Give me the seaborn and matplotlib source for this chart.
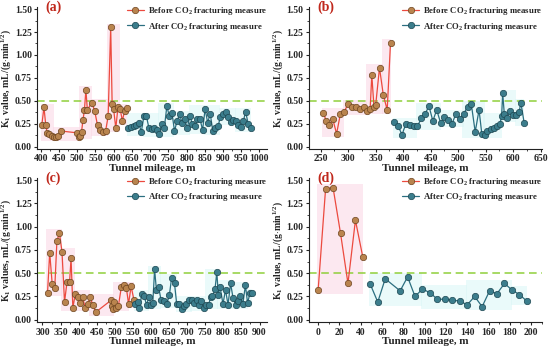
import numpy as np
import pandas as pd
import matplotlib
matplotlib.use("Agg")
import matplotlib.pyplot as plt
from matplotlib.ticker import MultipleLocator
import seaborn as sns

# panel (a)
a_before_x = [403, 409, 414, 418, 424, 430, 436, 442, 448, 455, 500, 504, 508, 512, 516, 520, 524, 528,
              540, 548, 556, 564, 572, 578, 585, 592, 596, 600, 606, 612, 618, 624, 630, 636]
a_before_y = [0.23, 0.43, 0.23, 0.15, 0.14, 0.12, 0.10, 0.10, 0.11, 0.17, 0.15, 0.10, 0.12, 0.16, 0.29, 0.40,
              0.62, 0.40, 0.48, 0.39, 0.23, 0.18, 0.16, 0.17, 0.33, 1.30, 0.46, 0.41, 0.20, 0.43, 0.41, 0.28,
              0.39, 0.42]
a_after_x = [640, 648, 655, 662, 669, 676, 683, 690, 697, 704, 711, 718, 725, 732, 739, 746, 753, 760, 767,
             774, 781, 788, 795, 802, 809, 816, 823, 830, 837, 844, 851, 858, 865, 872, 879, 886, 893, 900,
             907, 914, 921, 928, 935, 942, 949, 956, 962, 969, 976]
a_after_y = [0.20, 0.21, 0.22, 0.23, 0.26, 0.16, 0.33, 0.33, 0.20, 0.19, 0.20, 0.18, 0.14, 0.25, 0.20, 0.44,
             0.33, 0.37, 0.17, 0.28, 0.35, 0.26, 0.30, 0.20, 0.33, 0.25, 0.22, 0.30, 0.30, 0.18, 0.41, 0.26,
             0.36, 0.17, 0.20, 0.22, 0.32, 0.36, 0.38, 0.32, 0.27, 0.29, 0.28, 0.24, 0.21, 0.28, 0.38, 0.25,
             0.20]

# panel (b)
b_before_x = [255, 260, 266, 272, 279, 286, 293, 300, 307, 314, 321, 328, 335, 340, 343, 347, 350, 357,
              364, 371, 377]
b_before_y = [0.37, 0.28, 0.23, 0.30, 0.14, 0.36, 0.38, 0.47, 0.43, 0.43, 0.41, 0.43, 0.39, 0.41, 0.78,
              0.43, 0.45, 0.86, 0.56, 0.40, 1.13]
b_after_x = [384, 391, 398, 405, 412, 419, 426, 433, 440, 447, 454, 461, 468, 475, 482, 489, 496, 503, 510,
             517, 524, 531, 538, 543, 548, 553, 559, 565, 571, 576, 579, 581, 584, 589, 594, 600, 606, 611,
             614, 620]
b_after_y = [0.27, 0.22, 0.13, 0.25, 0.24, 0.22, 0.22, 0.31, 0.36, 0.44, 0.28, 0.40, 0.26, 0.32, 0.29, 0.25,
             0.36, 0.30, 0.36, 0.43, 0.46, 0.16, 0.40, 0.14, 0.13, 0.17, 0.19, 0.20, 0.22, 0.25, 0.33, 0.58,
             0.35, 0.31, 0.39, 0.34, 0.34, 0.38, 0.48, 0.26]

# panel (c)
c_before_x = [314, 320, 327, 334, 340, 347, 354, 361, 368, 375, 379, 384, 391, 398, 405, 411, 418, 425,
              432, 439, 447, 490, 493, 496, 499, 503, 510, 518, 525, 532, 538, 545, 553]
c_before_y = [0.29, 0.72, 0.38, 0.34, 0.85, 0.93, 0.73, 0.19, 0.41, 0.41, 0.66, 0.13, 0.28, 0.24, 0.18,
              0.24, 0.13, 0.17, 0.24, 0.16, 0.08, 0.21, 0.15, 0.12, 0.19, 0.13, 0.15, 0.35, 0.37, 0.34, 0.17,
              0.36, 0.21]
c_after_x = [557, 563, 568, 575, 581, 588, 594, 600, 605, 610, 615, 621, 628, 636, 644, 651, 657, 665, 671,
             678, 685, 692, 698, 705, 712, 719, 726, 732, 739, 746, 753, 759, 765, 770, 777, 782, 786, 791,
             799, 806, 813, 820, 827, 834, 840, 847, 854, 861, 867, 874, 880]
c_after_y = [0.17, 0.19, 0.13, 0.28, 0.25, 0.16, 0.24, 0.16, 0.18, 0.54, 0.32, 0.35, 0.21, 0.20, 0.17,
             0.27, 0.45, 0.39, 0.17, 0.17, 0.12, 0.15, 0.17, 0.21, 0.21, 0.18, 0.21, 0.16, 0.20, 0.13, 0.16,
             0.16, 0.24, 0.25, 0.33, 0.51, 0.27, 0.35, 0.17, 0.32, 0.16, 0.39, 0.23, 0.16, 0.20, 0.26, 0.17,
             0.37, 0.18, 0.29, 0.29]

# panel (d)
d_before_x = [0, 7, 14, 21, 28, 35, 42]
d_before_y = [0.32, 1.41, 1.42, 0.93, 0.39, 1.07, 0.67]
d_after_x = [49, 56, 63, 77, 84, 91, 98, 105, 112, 119, 126, 133, 140, 147, 154, 161, 168, 175, 182, 189, 196]
d_after_y = [0.38, 0.19, 0.44, 0.31, 0.46, 0.25, 0.33, 0.29, 0.22, 0.22, 0.21, 0.20, 0.16, 0.25, 0.14,
             0.31, 0.28, 0.39, 0.32, 0.27, 0.20]

panel_labels = ["(a)", "(b)", "(c)", "(d)"]
y_labels = ["K$_1$ value, mL/(g$\\cdot$min$^{1/2}$)", "K$_1$ value, mL/(g$\\cdot$min$^{1/2}$)",
            "K$_1$ values, mL/(g$\\cdot$min$^{1/2}$)", "K$_1$ value, mL/(g$\\cdot$min$^{1/2}$)"]
x_label = "Tunnel mileage, m"
legend_before = "Before CO$_2$ fracturing measure"
legend_after = "After CO$_2$ fracturing measure"
threshold = 0.5

sns.set_style("ticks")
plt.rcParams["font.family"] = ["Liberation Serif", "DejaVu Serif"]
plt.rcParams["mathtext.fontset"] = "custom"
plt.rcParams["mathtext.rm"] = "Liberation Serif:bold"
plt.rcParams["mathtext.it"] = "Liberation Serif:bold"
plt.rcParams["mathtext.bf"] = "Liberation Serif:bold"
plt.rcParams["font.weight"] = "bold"

fig = plt.figure(figsize=(5.5, 3.47), dpi=100)
positions = [[0.068, 0.571, 0.417, 0.408], [0.562, 0.571, 0.423, 0.408],
             [0.068, 0.072, 0.417, 0.414], [0.562, 0.072, 0.423, 0.414]]
xlims = [(391, 1020), (229, 652), (286, 920), (-8.5, 210)]
xmajor = [50, 50, 50, 20]
xticks = [range(400, 1001, 50), range(250, 651, 50), range(300, 901, 50), range(0, 201, 20)]

data = [(a_before_x, a_before_y, a_after_x, a_after_y),
        (b_before_x, b_before_y, b_after_x, b_after_y),
        (c_before_x, c_before_y, c_after_x, c_after_y),
        (d_before_x, d_before_y, d_after_x, d_after_y)]

red_line = "#ec4a3f"
brown = "#b9844e"
teal_line = "#2b6f80"
teal = "#3b7d8c"

for i in range(4):
    ax = fig.add_axes(positions[i])
    bx, by, axx, ayy = data[i]

    # soft highlight patches behind the points
    for xs, ys, col in [(bx, by, "#fbd6e4"), (axx, ayy, "#daf6f6")]:
        step = 6
        for k in range(0, len(xs), step):
            cx = xs[k:k + step + 1]
            cy = ys[k:k + step + 1]
            ax.fill_between([min(cx) - 3 * (xmajor[i] / 50), max(cx)], min(cy) - 0.04, max(cy) + 0.04,
                            color=col, alpha=0.55, lw=0, zorder=0)

    ax.axhline(threshold, color="#8fcf3a", lw=1.1, ls=(0, (5, 3)), zorder=1)
    df_b = pd.DataFrame({"x": bx, "y": by})
    df_a = pd.DataFrame({"x": axx, "y": ayy})
    sns.lineplot(data=df_b, x="x", y="y", ax=ax, sort=False, color=red_line, lw=0.9, marker="o",
                 markersize=4.6, markerfacecolor=brown, markeredgecolor="#6e4520",
                 markeredgewidth=0.5, label=legend_before, zorder=3)
    sns.lineplot(data=df_a, x="x", y="y", ax=ax, sort=False, color=teal_line, lw=0.9, marker="o",
                 markersize=4.6, markerfacecolor=teal, markeredgecolor="#1d4752",
                 markeredgewidth=0.5, label=legend_after, zorder=3)

    ax.set_xlim(*xlims[i])
    ax.set_ylim(-0.025, 1.52)
    ax.set_xticks(list(xticks[i]))
    ax.xaxis.set_minor_locator(MultipleLocator(xmajor[i] / 2))
    ax.set_yticks([0, 0.25, 0.5, 0.75, 1.0, 1.25, 1.5])
    ax.set_yticklabels(["0.00", "0.25", "0.50", "0.75", "1.00", "1.25", "1.50"])
    ax.yaxis.set_minor_locator(MultipleLocator(0.125))
    ax.tick_params(axis="both", which="major", direction="out", length=2.5, width=0.8, labelsize=7, pad=1.5)
    ax.tick_params(axis="both", which="minor", direction="out", length=1.5, width=0.6)
    for lab in ax.get_xticklabels() + ax.get_yticklabels():
        lab.set_fontweight("bold")
    sns.despine(ax=ax)
    for s in ["left", "bottom"]:
        ax.spines[s].set_linewidth(0.8)
        ax.spines[s].set_color("#222222")

    ax.set_xlabel(x_label, fontsize=8, fontweight="bold", labelpad=0.5)
    ax.set_ylabel(y_labels[i], fontsize=7, fontweight="bold", labelpad=1)
    ax.text(0.035, 1.0, panel_labels[i], transform=ax.transAxes, color="#c0281c", fontsize=10,
            fontweight="bold", va="center", ha="left")

    leg = ax.legend(loc="upper right", bbox_to_anchor=(1.025, 1.05), frameon=False, fontsize=6.3,
                    handlelength=2.0, handletextpad=0.4, labelspacing=0.35, borderaxespad=0.2)
    for t in leg.get_texts():
        t.set_fontweight("bold")

fig.savefig("out.png", dpi=100)
